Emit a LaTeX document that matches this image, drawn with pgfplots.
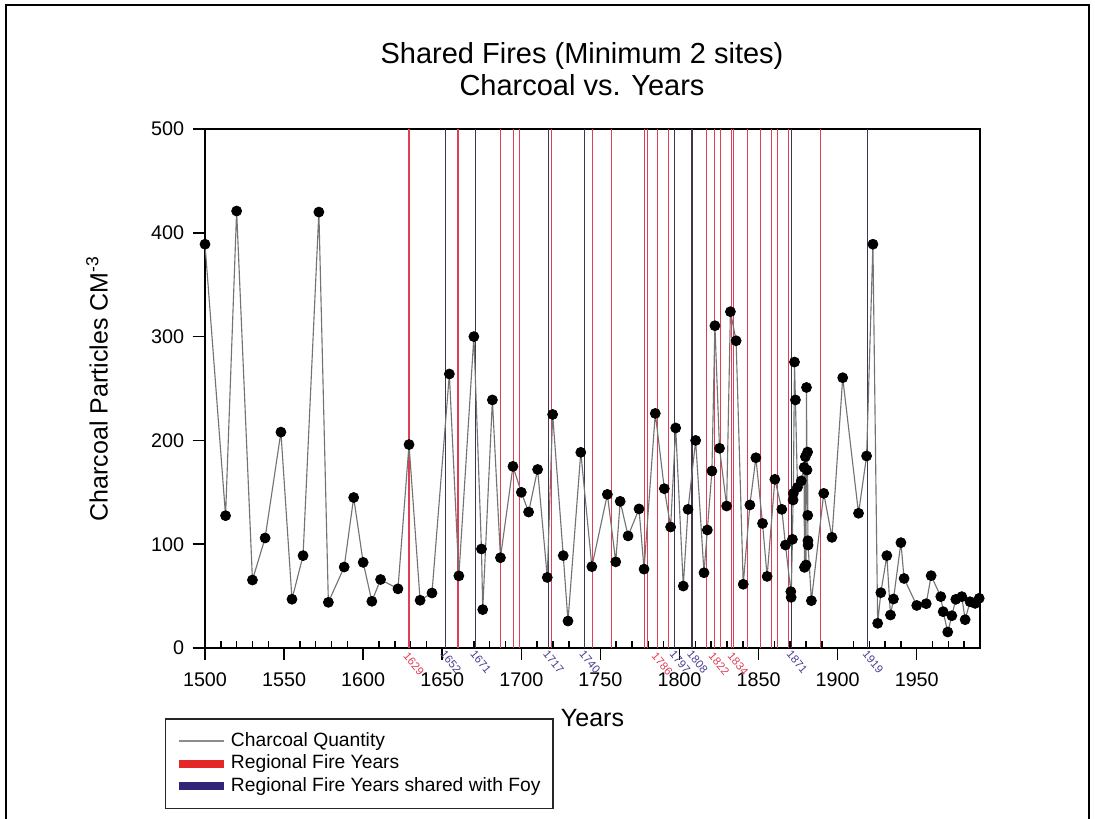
\documentclass[border=0pt]{standalone}
\usepackage{fontspec}
\setmainfont{Liberation Sans}
\usepackage{pgfplots}
\pgfplotsset{compat=1.18}

\definecolor{firered}{RGB}{222,62,86}
\definecolor{foyline}{RGB}{66,52,78}
\definecolor{foylab}{RGB}{72,62,140}
\definecolor{foyleg}{RGB}{52,36,120}
\definecolor{legred}{RGB}{228,40,40}

\tikzset{yrlab/.style={anchor=west, rotate=-50, inner sep=0pt,
    font=\fontsize{4.5}{5}\selectfont}}

\begin{document}
\begin{tikzpicture}
\useasboundingbox (-82pt,-68pt) rectangle (356pt,259.2pt);
% outer frame of the figure
\draw[black, line width=0.6pt] (-79.6pt,-70pt) -- (-79.6pt,257.2pt)
    -- (353.6pt,257.2pt) -- (353.6pt,-70pt);

\begin{axis}[
    at={(0pt,0pt)}, anchor=south west,
    scale only axis,
    width=310pt, height=207.6pt,
    xmin=1500, xmax=1990,
    ymin=0, ymax=500,
    xtick distance=50,
    minor xtick={1510,1520,1530,1540,1560,1570,1580,1590,1610,1620,1630,1640,
                 1660,1670,1680,1690,1710,1720,1730,1740,1760,1770,1780,1790,
                 1810,1820,1830,1840,1860,1870,1880,1890,1910,1920,1930,1940,
                 1960,1970,1980,1990},
    ytick={0,100,...,500},
    tick pos=left,
    tick align=outside,
    major tick length=4.8pt,
    minor tick length=2.8pt,
    minor x tick style={yshift=2.8pt},
    axis line style={line width=0.6pt},
    every tick/.style={black, line width=0.6pt},
    /pgf/number format/1000 sep={},
    /pgf/number format/assume math mode=true,
    ticklabel style={font=\fontsize{7.9}{9}\selectfont},
    xticklabel style={yshift=-1.5pt},
    xlabel={Years},
    ylabel={Charcoal Particles CM\textsuperscript{-3}},
    label style={font=\fontsize{10}{12}\selectfont},
    every axis x label/.style={at={([yshift=-28pt]axis description cs:0.5,0)}, anchor=center},
    every axis y label/.style={at={([xshift=-43.2pt]axis description cs:0,0.5)}, anchor=center, rotate=90},
    clip=false,
    legend style={at={(axis description cs:-0.052,-0.135)}, anchor=north west,
        draw=black!85, line width=0.6pt,
        font=\fontsize{7.7}{9}\selectfont,
        inner xsep=4pt, inner ysep=4.3pt,
        nodes={inner sep=1pt},
        column sep=0pt,
        cells={anchor=west}},
]
\addlegendimage{legend image code/.code={\draw[black!45, line width=0.5pt] (0pt,0pt) -- (18pt,0pt);}}
\addlegendentry{Charcoal Quantity}
\addlegendimage{legend image code/.code={\draw[legred, line width=3.2pt] (0pt,0pt) -- (18pt,0pt);}}
\addlegendentry{Regional Fire Years}
\addlegendimage{legend image code/.code={\draw[foyleg, line width=3.2pt] (0pt,0pt) -- (18pt,0pt);}}
\addlegendentry{Regional Fire Years shared with Foy}

% regional fire years
\addplot[ycomb, no marks, firered, line width=0.5pt, forget plot] coordinates {
    (1629,500) (1660,500) (1687,500) (1695,500) (1699,500) (1719,500)
    (1745,500) (1757,500) (1778,500) (1780,500) (1786,500) (1793,500)
    (1817,500) (1822,500) (1826,500) (1833,500) (1834,500) (1843,500)
    (1851,500) (1858,500) (1862,500) (1869,500) (1889,500)
};
% regional fire years shared with Foy
\addplot[ycomb, no marks, foyline, line width=0.55pt, forget plot] coordinates {
    (1652,500) (1671,500) (1717,500) (1740,500) (1797,500) (1808,500)
    (1871,500) (1919,500)
};

% charcoal quantity
\addplot[black!55, line width=0.45pt, mark=*, mark size=2pt,
         mark options={fill=black, draw=black, line width=0.3pt}, forget plot]
coordinates {
    (1500,389) (1513,127.5) (1520,421) (1530,65.5) (1538,106) (1548,208)
    (1555,47) (1562,89) (1572,420) (1578,44) (1588,78) (1594,145)
    (1600,82.5) (1605.5,45) (1611,66) (1622,57) (1629,196) (1636,46)
    (1643.5,53) (1654.5,264) (1660.5,69.5) (1670,300) (1674.8,95.4) (1675.6,37)
    (1681.7,239) (1686.8,87) (1694.7,175) (1700,150) (1704.6,131) (1710.3,172)
    (1716.4,68) (1719.8,225) (1726.5,89) (1729.5,26) (1737.6,188.5) (1744.6,78.4)
    (1754.4,148) (1759.7,83) (1762.5,141.3) (1767.5,108) (1774.4,134) (1777.6,76)
    (1784.7,226) (1790.4,153.5) (1794.4,116.6) (1797.6,212) (1802.4,59.7) (1805.4,133.6)
    (1810.2,200) (1815.5,72.5) (1817.6,113.7) (1820.5,170.5) (1822.4,310.5) (1825.3,192.4)
    (1829.8,136.8) (1832.2,324) (1835.8,296) (1840.3,61.4) (1844.5,137.8) (1848.3,183.3)
    (1852.5,120) (1855.4,69) (1860.3,162.5) (1864.7,133.6) (1867,99.2) (1870.4,54.3)
    (1870.6,48.8) (1871.4,104.7) (1871.8,142.6) (1872.0,149) (1872.7,275.5) (1873.3,239)
    (1874.6,154.8) (1877,161) (1878.8,174) (1879,77.7) (1879.6,184.3) (1880,80)
    (1880.3,251) (1880.6,171.5) (1881,188.8) (1881.1,127.8) (1881.2,103.4) (1881.3,99.2)
    (1883.4,45.6) (1891.2,149) (1896.4,106.6) (1903.2,260.4) (1913.2,129.8) (1918.3,185)
    (1922.3,389) (1925.3,23.8) (1927.3,53.3) (1931.1,89) (1933.4,31.8) (1935.3,47.2)
    (1940,101.5) (1942,67) (1950,41) (1956,42.7) (1959.1,69.7) (1965.2,49.5)
    (1966.7,35) (1969.6,15.4) (1972.2,31.1) (1974.7,46.9) (1978.5,49.5) (1980.6,27.3)
    (1983.7,44.6) (1986.9,43) (1989.5,47.9)
};

% year labels under the axis
\node[yrlab, text=firered] at ([xshift=-1.4pt,yshift=-2.4pt]axis cs:1629,0) {1629};
\node[yrlab, text=foylab]  at ([xshift=-1.2pt,yshift=-1.5pt]axis cs:1652,0) {1652};
\node[yrlab, text=foylab]  at ([xshift=-1.2pt,yshift=-1.5pt]axis cs:1671,0) {1671};
\node[yrlab, text=foylab]  at ([xshift=-1.2pt,yshift=-1.5pt]axis cs:1717,0) {1717};
\node[yrlab, text=foylab]  at ([xshift=-1.2pt,yshift=-1.5pt]axis cs:1740,0) {1740};
\node[yrlab, text=firered] at ([xshift=-1.4pt,yshift=-2.4pt]axis cs:1786,0) {1786};
\node[yrlab, text=foylab]  at ([xshift=-1.2pt,yshift=-1.5pt]axis cs:1797,0) {1797};
\node[yrlab, text=foylab]  at ([xshift=-1.2pt,yshift=-1.5pt]axis cs:1808,0) {1808};
\node[yrlab, text=firered] at ([xshift=-1.4pt,yshift=-2.4pt]axis cs:1822,0) {1822};
\node[yrlab, text=firered] at ([xshift=-1.4pt,yshift=-2.4pt]axis cs:1834,0) {1834};
\node[yrlab, text=foylab]  at ([xshift=-1.2pt,yshift=-1.5pt]axis cs:1871,0) {1871};
\node[yrlab, text=foylab]  at ([xshift=-1.2pt,yshift=-1.5pt]axis cs:1919,0) {1919};
\end{axis}

\node[align=center, font=\fontsize{11.6}{12.8}\selectfont] at (150.8pt,231.6pt)
    {Shared Fires (Minimum 2 sites)\\Charcoal vs. Years};
\end{tikzpicture}
\end{document}
